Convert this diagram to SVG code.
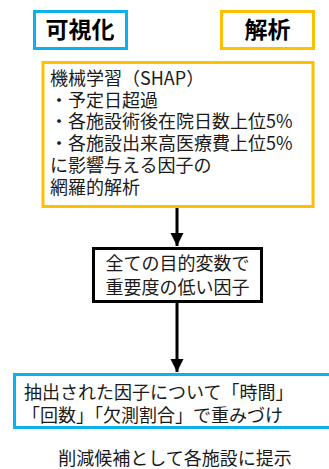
<svg xmlns="http://www.w3.org/2000/svg" width="329" height="469" viewBox="0 0 329 469">
<defs>
<marker id="ah" markerWidth="4.5" markerHeight="4.5" refX="4.5" refY="2.25" orient="auto" markerUnits="strokeWidth">
<path d="M0,0 L4.5,2.25 L0,4.5 Z" fill="#000"/>
</marker>
<style>
text{font-family:"Noto Sans CJK JP","Noto Sans CJK SC",sans-serif;fill:#1a1a1a;font-size:18px}
.title{font-weight:bold;font-size:23px;fill:#000;text-anchor:middle}
.blue{fill:#fff;stroke:#0DB0EE;stroke-width:3}
.orange{fill:#fff;stroke:#FFC000;stroke-width:3}
.black{fill:#fff;stroke:#000;stroke-width:3}
.conn{stroke:#000;stroke-width:3;fill:none}
</style>
</defs>
<rect width="329" height="469" fill="#fff"/>
<g id="node-visual">
<rect class="blue" x="34.5" y="11.5" width="92" height="37"/>
<text class="title" x="80" y="38">可視化</text>
</g>
<g id="node-analysis">
<rect class="orange" x="221.5" y="11.5" width="92" height="37"/>
<text class="title" x="267.5" y="38">解析</text>
</g>
<g id="node-ml">
<rect class="orange" x="43" y="62.5" width="270" height="144"/>
<text x="50" y="85">機械学習（SHAP）</text>
<text x="50" y="106.5">・予定日超過</text>
<text x="50" y="128">・各施設術後在院日数上位5%</text>
<text x="50" y="150">・各施設出来高医療費上位5%</text>
<text x="50" y="172">に影響与える因子の</text>
<text x="50" y="194">網羅的解析</text>
</g>
<g id="node-low">
<rect class="black" x="93.5" y="248.5" width="168" height="53"/>
<text x="177.5" y="270" text-anchor="middle">全ての目的変数で</text>
<text x="177.5" y="294" text-anchor="middle">重要度の低い因子</text>
</g>
<g id="node-weight">
<rect class="blue" x="14.5" y="374.5" width="320" height="53"/>
<text x="24" y="399">抽出された因子について「時間」</text>
<text x="22" y="422">「回数」「欠測割合」で重みづけ</text>
</g>
<g id="node-caption">
<text x="175" y="465" text-anchor="middle">削減候補として各施設に提示</text>
</g>
<g id="connectors">
<line class="conn" x1="177" y1="208" x2="177" y2="246" marker-end="url(#ah)"/>
<line class="conn" x1="177" y1="303" x2="177" y2="372" marker-end="url(#ah)"/>
</g>
</svg>
